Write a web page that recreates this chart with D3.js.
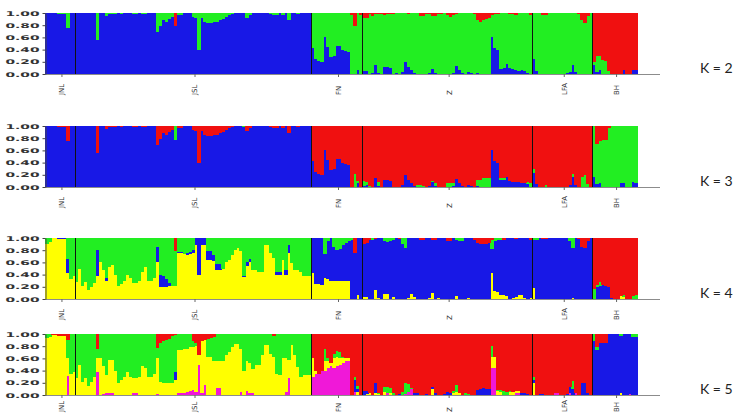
<!DOCTYPE html>
<html>
<head>
<meta charset="utf-8">
<script src="https://cdn.jsdelivr.net/npm/d3@7"></script>
<style>
  body { margin: 0; background: #fff; }
</style>
</head>
<body>
<svg id="chart" width="740" height="415"></svg>
<script>
'use strict';

// populations, left to right
var popNames = ["JNL", "JSL", "FN", "Z", "LFA", "BH"];
var popSizes = [10, 79, 17, 57, 20, 15];
var kLabels = ["K = 2", "K = 3", "K = 4", "K = 5"];
var yTicks = [0, 0.2, 0.4, 0.6, 0.8, 1];

// membership in %, one value per individual. R = the rest of the bar
var R = null;

// ---- K = 2 ----
var k2Blue = [
  R,R,R,R,R,R,R,R,R,R,
  R,R,R,R,R,R,R,R,R,R, R,R,R,R,R,R,R,R,R,R, R,R,R,R,R,R,R,R,R,R, R,R,R,R,R,R,R,R,R,R,
  R,R,R,R,R,R,R,R,R,R, R,R,R,R,R,R,R,R,R,R, R,R,R,R,R,R,R,R,R,R, R,R,R,R,R,R,R,R,R,
  42,25,22,20,60,45,28,30,46,46,40,37,36,0,0,6,0,
  5,5,0,2,15,2,0,12,11,10, 0,1,0,3,19,12,6,2,0,0, 0,0,2,8,1,0,0,0,0,0,
  2,13,6,2,0,4,1,0,2,0, 0,0,0,60,42,40,9,10,16,10, 8,6,5,7,5,1,0,
  24,5,0,0,0,0,0,0,0,0, 0,2,3,15,3,0,0,0,0,0,
  14,4,6,0,0,0,0,0,0,0,6,0,0,7,6
];
var k2Green = [
  0,0,0,0,2,2,2,24,0,0,
  0,0,0,0,0,0,0,44,0,0, 5,1,2,1,0,1,0,0,0,2, 2,0,1,2,0,0,0,31,22,12, 15,10,7,0,4,3,0,0,0,7,
  8,60,8,15,16,16,15,14,12,10, 7,3,1,0,0,0,0,8,3,0, 0,0,0,0,0,1,4,3,0,4, 0,12,0,0,1,0,0,0,0,
  R,R,R,R,R,R,R,R,R,R,R,R,R,R,R,R,R,
  R,R,R,R,R,R,R,R,R,R, R,R,R,R,R,R,R,R,R,R, R,R,R,R,R,R,R,R,R,R,
  R,R,R,R,R,R,R,R,R,R, R,R,R,R,R,R,R,R,R,R, R,R,R,R,R,R,R,
  R,R,R,R,R,R,R,R,R,R, R,R,R,R,R,R,R,R,R,R,
  6,26,24,23,22,5,0,0,0,0,0,0,0,0,0
];
var k2Red = [
  0,0,0,0,0,0,0,0,0,0,
  0,0,0,0,0,0,0,0,0,0, 0,0,0,0,0,0,0,0,0,0, 0,0,0,0,0,0,0,0,0,0, 0,0,0,22,0,0,0,0,0,0,
  0,0,0,0,0,0,0,0,0,0, 0,0,0,0,0,0,0,0,0,0, 0,0,0,0,0,0,0,0,0,0, 0,0,0,0,0,0,0,0,0,
  0,0,0,0,0,0,0,0,0,0,0,0,0,3,22,0,3,
  8,8,2,5,2,1,1,3,2,1, 1,0,0,0,0,1,0,0,0,5, 5,1,2,5,5,2,1,0,3,6,
  3,1,0,0,0,0,0,1,12,14, 12,10,8,3,2,1,0,0,0,2, 2,4,0,0,0,0,4,
  0,0,0,3,3,0,0,0,0,0, 0,0,0,0,0,2,12,17,5,0,
  R,R,R,R,R,R,R,R,R,R,R,R,R,R,R
];

// ---- K = 3 ----
var k3Blue = [
  R,R,R,R,R,R,R,R,R,R,
  R,R,R,R,R,R,R,R,R,R, R,R,R,R,R,R,R,R,R,R, R,R,R,R,R,R,R,R,R,R, R,R,R,R,R,R,R,R,R,R,
  R,R,R,R,R,R,R,R,R,R, R,R,R,R,R,R,R,R,R,R, R,R,R,R,R,R,R,R,R,R, R,R,R,R,R,R,R,R,R,
  42,25,22,20,60,45,28,30,46,46,40,37,36,0,0,6,0,
  2,4,0,0,15,2,0,12,11,10, 0,0,0,3,19,12,6,2,0,0, 0,0,2,8,1,0,0,0,0,0,
  2,13,6,2,0,4,1,0,2,0, 0,0,0,60,42,40,12,12,16,10, 9,8,8,7,6,5,0,
  23,5,0,0,0,0,0,0,0,0, 0,0,3,17,3,0,0,0,0,0,
  17,5,6,0,0,0,0,0,0,6,6,0,0,8,7
];
var k3Green = [
  0,0,0,0,0,0,0,0,0,0,
  0,0,0,0,0,0,0,0,0,0, 0,0,0,0,0,0,0,0,0,0, 0,0,0,0,0,0,0,0,0,0, 0,0,0,23,0,0,0,0,0,0,
  0,0,0,0,0,0,0,0,0,0, 0,0,0,0,0,0,2,0,0,0, 0,0,0,0,0,0,0,0,0,0, 0,0,0,0,0,0,0,0,0,
  0,0,0,0,0,0,0,0,0,0,0,0,0,0,22,4,0,
  8,5,2,0,0,6,0,0,0,0, 0,0,0,0,0,0,0,0,3,3, 2,0,0,2,5,0,0,0,6,7,
  4,0,0,0,0,0,0,0,10,12, 14,15,14,0,0,0,3,2,0,0, 0,0,0,0,0,3,6,
  6,0,0,0,3,0,0,0,0,0, 0,0,0,4,0,0,17,19,5,0,
  R,R,R,R,R,R,R,R,R,R,R,R,R,R,R
];
var k3Red = [
  0,0,0,0,2,2,2,24,0,0,
  0,0,0,0,0,0,0,44,0,0, 5,1,2,1,0,1,0,0,0,2, 2,0,1,2,0,0,0,31,22,12, 15,10,7,0,4,3,0,0,0,7,
  8,60,8,15,16,16,15,14,12,10, 7,3,1,0,0,0,0,8,3,0, 0,0,0,0,0,1,4,3,0,4, 0,12,0,0,1,0,0,0,0,
  R,R,R,R,R,R,R,R,R,R,R,R,R,R,R,R,R,
  R,R,R,R,R,R,R,R,R,R, R,R,R,R,R,R,R,R,R,R, R,R,R,R,R,R,R,R,R,R,
  R,R,R,R,R,R,R,R,R,R, R,R,R,R,R,R,R,R,R,R, R,R,R,R,R,R,R,
  R,R,R,R,R,R,R,R,R,R, R,R,R,R,R,R,R,R,R,R,
  0,29,24,23,23,3,0,0,0,0,0,0,0,0,0
];

// ---- K = 4 ----
var k4Yellow = [
  90,93,100,100,98,98,98,42,33,37,
  28,50,22,28,14,20,27,38,60,47, 30,53,55,40,22,25,30,40,35,27, 27,30,45,52,30,30,35,60,20,20, 20,22,22,22,75,75,74,72,74,76,
  88,40,88,88,64,64,62,48,48,50, 60,64,72,80,84,78,36,54,60,48, 48,45,45,89,89,75,67,40,40,64, 40,75,59,48,48,45,37,37,37,
  43,25,25,23,34,33,30,30,30,30,30,30,30,0,0,7,0,
  3,3,0,0,14,2,0,8,8,0, 3,0,0,0,0,2,8,3,0,0, 0,0,2,10,0,2,0,0,0,0,
  0,5,0,0,0,2,0,0,0,0, 0,0,0,42,13,12,6,6,5,0, 2,3,7,7,2,0,2,
  18,0,0,0,0,0,0,0,0,0, 0,0,0,2,0,0,0,0,0,0,
  0,0,0,0,0,0,0,0,0,5,4,0,0,0,0
];
var k4Blue = [
  0,0,0,0,2,2,2,23,0,0,
  0,0,0,0,0,0,0,43,0,0, 4,0,0,0,0,0,0,0,0,0, 0,0,0,0,0,0,0,26,20,17, 12,5,0,0,2,2,0,3,3,4,
  12,60,12,12,14,14,10,10,10,0, 0,0,0,0,0,0,2,6,6,0, 0,0,0,0,0,0,0,5,5,0, 7,14,0,0,0,0,0,0,0,
  R,R,R,R,R,R,R,R,R,R,R,R,R,R,R,R,R,
  R,R,R,R,R,R,R,R,R,R, R,R,R,R,R,R,R,R,R,R, R,R,R,R,R,R,R,R,R,R,
  R,R,R,R,R,R,R,R,R,R, R,R,R,R,R,R,R,R,R,R, R,R,R,R,R,R,R,
  R,R,R,R,R,R,R,R,R,R, R,R,R,R,R,R,R,R,R,R,
  0,20,22,23,22,20,2,0,0,0,0,0,0,0,0
];
var k4Green = [
  R,R,R,R,R,R,R,R,R,R,
  R,R,R,R,R,R,R,R,R,R, R,R,R,R,R,R,R,R,R,R, R,R,R,R,R,R,R,R,R,R, R,R,R,R,R,R,R,R,R,R,
  R,R,R,R,R,R,R,R,R,R, R,R,R,R,R,R,R,R,R,R, R,R,R,R,R,R,R,R,R,R, R,R,R,R,R,R,R,R,R,
  0,0,0,0,27,5,0,15,20,18,12,8,5,3,0,0,0,
  0,0,0,4,0,0,0,5,6,5, 4,0,0,10,17,0,0,0,0,0, 0,0,0,0,0,0,0,0,0,0,
  0,3,5,5,0,0,0,0,0,0, 0,0,0,15,5,4,3,0,0,0, 0,0,0,0,0,0,0,
  3,3,0,0,0,0,0,0,0,0, 0,0,5,16,0,0,0,0,0,0,
  16,3,6,0,0,0,0,0,0,0,2,0,0,5,7
];
var k4Red = [
  0,0,0,0,0,0,0,0,0,0,
  0,0,0,0,0,0,0,0,0,0, 0,0,0,0,0,0,0,0,0,0, 0,0,0,0,0,0,0,0,0,0, 0,0,0,22,0,0,0,0,0,0,
  0,0,0,0,0,0,0,0,0,0, 0,0,0,0,0,0,0,0,0,0, 0,0,0,0,0,0,0,0,0,0, 0,0,0,0,0,0,0,0,0,
  0,0,0,0,0,0,0,0,0,0,0,0,0,0,25,0,0,
  10,8,3,0,2,0,0,0,0,0, 0,0,2,0,0,0,0,0,0,4, 4,0,0,3,3,0,0,0,5,5,
  0,0,0,0,0,0,0,3,8,10, 10,10,8,3,0,0,0,3,0,0, 0,2,0,0,0,0,3,
  0,0,0,2,2,0,0,0,0,0, 0,0,0,0,0,2,15,17,5,0,
  R,R,R,R,R,R,R,R,R,R,R,R,R,R,R
];

// ---- K = 5 ----
var k5Magenta = [
  0,0,0,0,0,0,0,31,0,0,
  0,0,0,0,0,0,0,37,0,2, 4,3,3,0,0,0,0,0,0,4, 3,0,0,0,0,0,0,2,0,0, 0,0,0,0,4,3,3,5,6,8,
  5,50,3,16,0,0,0,12,12,0, 0,0,0,0,0,5,0,6,3,3, 0,0,0,0,0,0,0,0,0,0, 5,28,0,0,0,0,0,0,0,
  30,35,35,40,40,45,47,45,47,50,52,55,56,0,5,0,0,
  0,0,0,0,0,0,0,0,3,0, 0,0,0,0,2,5,10,0,0,0, 0,0,0,0,0,0,0,0,0,0,
  0,0,0,0,0,0,0,0,0,0, 0,0,0,44,44,0,0,0,0,0, 0,3,3,0,0,0,0,
  0,0,0,0,0,0,0,3,3,0, 0,0,3,0,4,0,0,0,0,0,
  0,0,0,0,0,0,0,0,0,0,0,0,2,0,0
];
var k5Yellow = [
  93,95,98,98,97,97,96,30,35,37,
  28,50,22,28,15,22,30,23,60,45, 28,55,55,40,20,25,30,38,30,24, 25,30,47,45,30,30,35,58,22,20, 20,20,20,25,70,71,72,70,72,70,
  75,15,85,74,63,63,55,43,43,55, 66,70,79,83,83,70,40,50,50,40, 49,50,66,82,82,68,63,35,33,60, 55,30,82,66,46,30,33,33,33,
  30,5,0,0,15,10,5,15,15,10,8,5,4,0,0,5,0,
  0,2,3,0,3,2,0,5,0,3, 0,0,0,0,0,0,0,0,0,0, 0,0,0,10,0,0,0,0,0,0,
  3,5,4,0,0,0,0,0,0,0, 0,0,0,19,18,6,5,0,0,5, 5,4,3,0,0,0,0,
  20,0,0,0,0,0,0,0,0,0, 0,0,0,0,0,0,0,0,0,0,
  0,0,0,0,0,0,0,0,0,3,0,0,0,0,0
];
var k5Blue = [
  0,0,0,0,0,0,0,0,0,0,
  0,0,0,0,0,0,0,0,0,0, 0,0,0,0,0,0,0,0,0,0, 0,0,0,0,0,0,0,0,0,0, 0,0,0,13,0,0,0,0,0,0,
  0,0,0,0,0,0,0,0,0,0, 0,0,0,0,0,0,0,0,0,0, 0,0,0,0,0,0,0,0,0,0, 0,0,0,0,0,0,0,0,0,
  0,0,0,0,0,0,0,0,0,0,0,0,0,0,20,5,0,
  6,4,0,0,16,0,0,0,0,0, 0,0,2,0,0,0,0,3,4,0, 0,2,0,3,3,0,0,2,5,4,
  0,0,0,0,0,0,0,0,8,10, 11,10,10,0,0,0,0,0,0,0, 0,0,0,4,4,2,0,
  5,0,2,2,0,0,0,0,0,0, 0,2,10,10,0,0,19,20,4,0,
  R,R,R,R,R,R,R,R,R,R,R,R,R,R,R
];
var k5Green = [
  R,R,R,R,R,R,R,R,R,R,
  R,R,R,R,R,R,R,R,R,R, R,R,R,R,R,R,R,R,R,R, R,R,R,R,R,R,R,R,R,R, R,R,R,R,R,R,R,R,R,R,
  R,R,R,R,R,R,R,R,R,R, R,R,R,R,R,R,R,R,R,R, R,R,R,R,R,R,R,R,R,R, R,R,R,R,R,R,R,R,R,
  0,0,0,0,20,5,0,8,10,10,3,0,0,0,5,5,0,
  0,0,0,0,0,2,0,8,10,8, 3,0,0,5,17,13,2,0,0,0, 0,0,0,0,0,0,0,0,0,0,
  3,11,0,0,3,2,0,0,0,0, 0,0,0,17,0,3,4,6,5,2, 0,0,0,0,0,0,0,
  5,0,0,0,0,0,0,0,0,0, 0,0,0,13,0,0,0,0,0,0,
  12,5,0,0,0,0,0,0,0,3,0,0,0,5,5
];
var k5Red = [
  0,0,2,2,3,3,4,10,0,0,
  0,0,0,0,0,0,0,25,0,0, 0,0,0,0,0,0,0,0,0,0, 0,0,0,0,0,0,0,23,15,12, 10,8,4,2,0,0,0,0,0,12,
  15,35,12,10,8,6,5,0,0,0, 0,0,0,0,0,0,0,0,0,0, 0,0,0,0,0,0,3,0,0,0, 0,0,0,0,0,0,0,0,0,
  R,R,R,R,R,R,R,R,R,R,R,R,R,R,R,R,R,
  R,R,R,R,R,R,R,R,R,R, R,R,R,R,R,R,R,R,R,R, R,R,R,R,R,R,R,R,R,R,
  R,R,R,R,R,R,R,R,R,R, R,R,R,R,R,R,R,R,R,R, R,R,R,R,R,R,R,
  R,R,R,R,R,R,R,R,R,R, R,R,R,R,R,R,R,R,R,R,
  0,22,15,15,15,0,0,0,0,0,0,0,0,0,0
];

var colours = { blue: "#1818e6", green: "#22ee22", red: "#f01010", yellow: "#ffff00", magenta: "#f018d8" };

// stacking order is bottom to top
var panels = [
  { keys: ["blue", "green", "red"], cols: [k2Blue, k2Green, k2Red] },
  { keys: ["blue", "green", "red"], cols: [k3Blue, k3Green, k3Red] },
  { keys: ["yellow", "blue", "green", "red"], cols: [k4Yellow, k4Blue, k4Green, k4Red] },
  { keys: ["magenta", "yellow", "blue", "green", "red"], cols: [k5Magenta, k5Yellow, k5Blue, k5Green, k5Red] }
];

var panelTop = [13, 126, 238, 334];
var panelH = 61;
var labelGap = [21, 21, 21, 17];

var N = d3.sum(popSizes);
var svg = d3.select("#chart");

var x = d3.scaleBand().domain(d3.range(N)).range([45, 637]).padding(0);
var popStart = popSizes.map(function (s, i) { return d3.sum(popSizes.slice(0, i)); });

panels.forEach(function (p, pi) {
  p.cols.forEach(function (c, j) {
    if (c.length !== N) throw new Error("panel " + pi + " " + p.keys[j] + " has " + c.length);
  });

  var top = panelTop[pi], bottom = top + panelH;
  var y = d3.scaleLinear().domain([0, 1]).range([bottom, top]);

  var rows = d3.range(N).map(function (i) {
    var row = {}, sum = 0, restKey = null;
    p.keys.forEach(function (k, j) {
      var v = p.cols[j][i];
      if (v === null) restKey = k;
      else { row[k] = v / 100; sum += v / 100; }
    });
    if (restKey) row[restKey] = Math.max(0, 1 - sum);
    return row;
  });

  var series = d3.stack().keys(p.keys)(rows);
  var g = svg.append("g");

  g.append("g")
    .attr("shape-rendering", "crispEdges")
    .selectAll("g.layer")
    .data(series)
    .join("g")
      .attr("class", "layer")
      .attr("fill", function (d) { return colours[d.key]; })
    .selectAll("rect")
    .data(function (d) { return d; })
    .join("rect")
      .attr("x", function (d, i) { return x(i); })
      .attr("width", x.bandwidth() + 0.6)
      .attr("y", function (d) { return y(d[1]); })
      .attr("height", function (d) { return Math.max(0, y(d[0]) - y(d[1])); });

  // population separators
  g.selectAll("line.sep")
    .data(popStart.slice(1))
    .join("line")
      .attr("class", "sep")
      .attr("x1", function (d) { return Math.round(x(d)) + 0.5; })
      .attr("x2", function (d) { return Math.round(x(d)) + 0.5; })
      .attr("y1", top).attr("y2", bottom)
      .attr("stroke", "#111").attr("stroke-width", 1);

  // bottom line, runs past the bars
  g.append("line")
    .attr("x1", 45).attr("x2", 660)
    .attr("y1", bottom + 0.5).attr("y2", bottom + 0.5)
    .attr("stroke", "#8c8c8c");

  // y axis
  var ax = g.append("g")
    .attr("transform", "translate(45.5,0)")
    .call(d3.axisLeft(y).tickValues(yTicks).tickFormat(d3.format(".2f")).tickSize(3).tickSizeOuter(0));
  ax.select(".domain").attr("stroke", "#444");
  ax.selectAll(".tick line").attr("stroke", "#444");
  ax.selectAll("text")
    .attr("x", -6)
    .attr("fill", "#333")
    .attr("font-family", "DejaVu Sans")
    .attr("font-weight", "bold")
    .attr("font-size", "6.5px")
    .attr("textLength", 34)
    .attr("lengthAdjust", "spacingAndGlyphs");

  // population ticks and names
  var centres = popStart.map(function (s, i) {
    return x(s) + popSizes[i] * x.bandwidth() / 2 + 2;
  });
  g.selectAll("line.ptick")
    .data(centres)
    .join("line")
      .attr("class", "ptick")
      .attr("x1", function (d) { return d; }).attr("x2", function (d) { return d; })
      .attr("y1", bottom).attr("y2", bottom + 3)
      .attr("stroke", "#666");
  g.selectAll("text.pop")
    .data(popNames)
    .join("text")
      .attr("class", "pop")
      .attr("transform", function (d, i) {
        return "translate(" + centres[i] + "," + (bottom + labelGap[pi]) + ") rotate(-90)";
      })
      .attr("dy", "0.35em")
      .attr("font-family", "DejaVu Sans")
      .attr("font-size", "7px")
      .attr("fill", "#333")
      .text(function (d) { return d; });

  g.append("text")
    .attr("x", 700)
    .attr("y", bottom - 1)
    .attr("font-family", "Lato")
    .attr("font-size", "14px")
    .attr("fill", "#222")
    .text(kLabels[pi]);
});
</script>
</body>
</html>
